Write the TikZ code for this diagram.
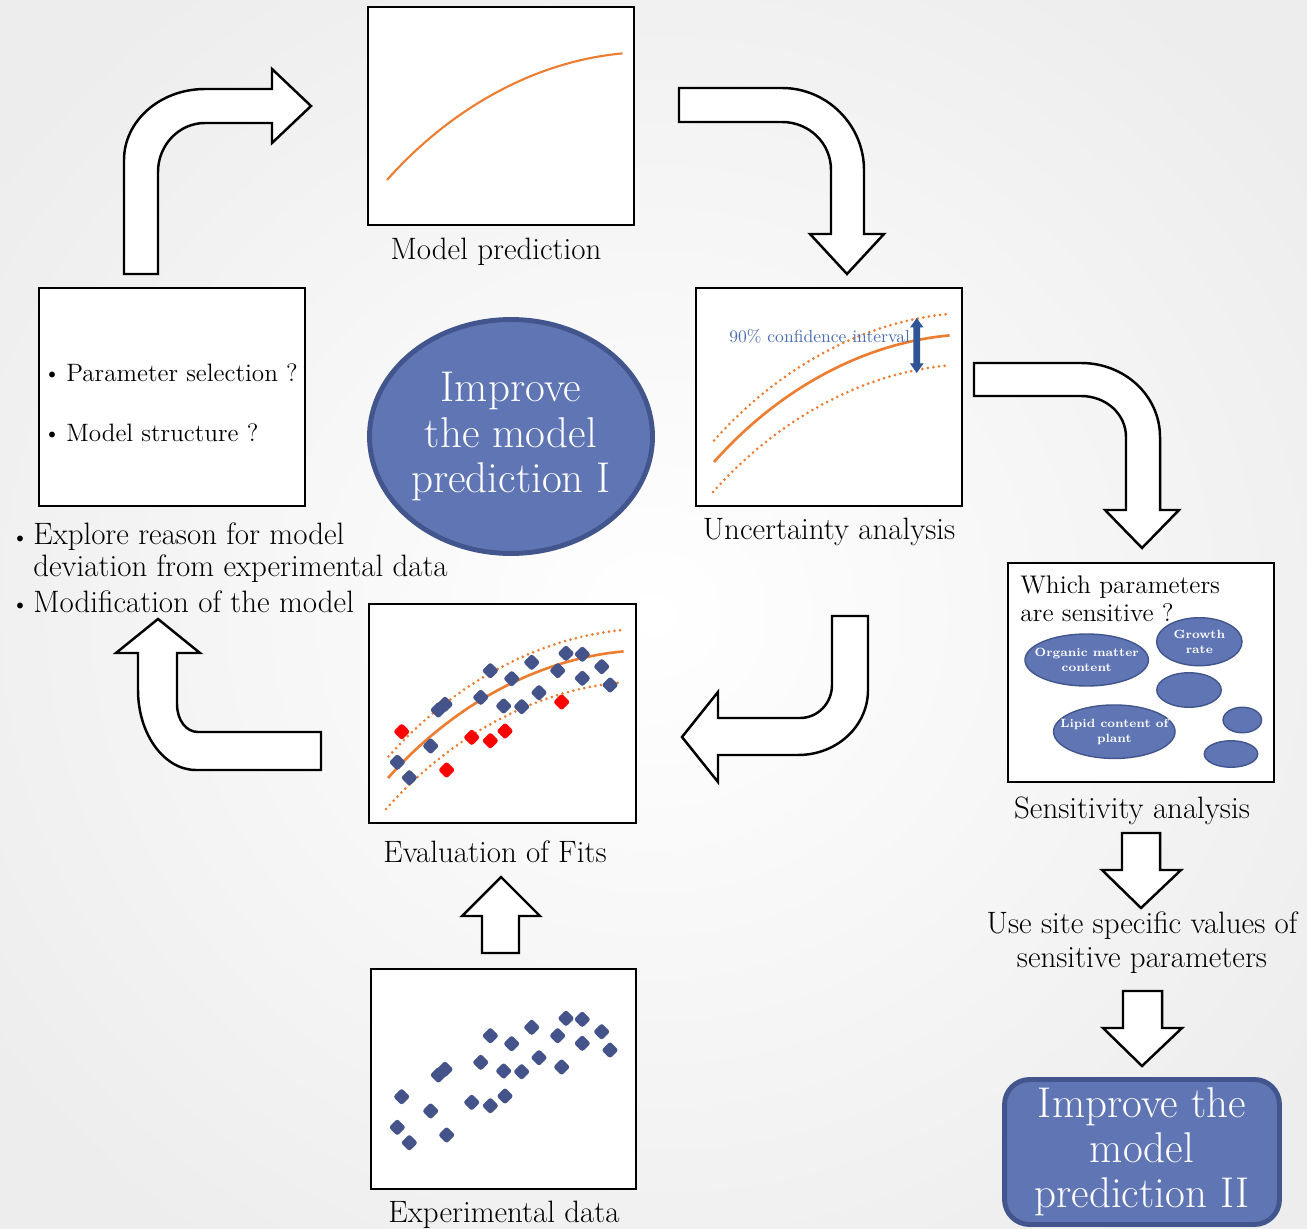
\documentclass[tikz,border=0pt]{standalone}
\usepackage{fontspec}
\usetikzlibrary{shapes.geometric}
\definecolor{orng}{HTML}{ED7D31}
\definecolor{navy}{HTML}{44548A}
\definecolor{fillblue}{HTML}{6075B4}
\definecolor{edgeblue}{HTML}{42568D}
\definecolor{ciblue}{HTML}{4A6EB0}
\definecolor{arrblue}{HTML}{2F5597}
\newcommand\bul{\raisebox{1.6pt}{\fontsize{8.5}{8.5}\selectfont$\bullet$}}
\def\bluepts{397.3/1127.3,409.3/1142.7,430.7/1111,438.3/1075,445/1069.3,480.7/1062.3,490.3/1035.7,503.7/1071,511.7/1043.7,521.7/1071.7,531.7/1027.3,539/1057.7,557.7/1035.7,566/1018.3,582.3/1019.3,582.3/1043.3,601.7/1031.7,610/1050}
\def\redpts{401.7/1096.7,446.7/1135,471.7/1102.3,490.3/1105.7,505/1096,561.7/1067}
\begin{document}
\begin{tikzpicture}[x=0.02cm,y=-0.02cm,
  pbox/.style={draw=black, line width=0.8pt, fill=white, minimum width=5.32cm, minimum height=4.36cm, inner sep=0},
  captxt/.style={font=\fontsize{17.6}{19}\selectfont, inner sep=0},
  boxtext/.style={font=\fontsize{14.3}{16.3}\selectfont, inner sep=0, anchor=west},
  blockarrow/.style={draw=black, line width=1.4pt, fill=white, line join=miter},
  fitline/.style={draw=orng, line width=1.5pt},
  dotline/.style={draw=orng, line width=1.7pt, line cap=round, dash pattern=on 0pt off 3.2pt},
  sell/.style={ellipse, draw=edgeblue, line width=0.8pt, fill=fillblue, inner sep=0},
  etext/.style={text=white, font=\fontsize{6.8}{8.5}\selectfont\bfseries, align=center, inner sep=0},
  bigblue/.style={draw=edgeblue, line width=2.8pt, fill=fillblue, text=white, font=\fontsize{24.5}{26}\selectfont, align=center, inner sep=0},
  mk/.style={rounded corners=0.05cm}
]
\useasboundingbox (0,0) rectangle (1307,1229);
\clip (0,0) rectangle (1307,1229);
\shade[inner color=white, outer color=black!7] (-150,-150) rectangle (1457,1379);

% ---------- boxes ----------
\node[pbox] (mp) at (501,116) {};
\node[pbox] (ua) at (829,397) {};
\node[pbox] (lb) at (172,397) {};
\node[pbox, minimum width=5.34cm, minimum height=4.38cm] (ev) at (502.5,713.5) {};
\node[pbox, minimum width=5.30cm, minimum height=4.40cm] (ed) at (503.5,1079) {};
\node[pbox, minimum height=4.38cm] (sa) at (1141,672.5) {};

% ---------- captions ----------
\node[captxt] (mpl) at (496,252) {Model prediction};
\node[captxt] (ual) at (829,532) {Uncertainty analysis};
\node[captxt] (evl) at (495,852) {Evaluation of Fits};
\node[captxt] (edl) at (504,1215) {Experimental data};
\node[captxt] (sal) at (1132,811) {Sensitivity analysis};
\node[captxt, align=center, font=\fontsize{17.6}{19.3}\selectfont] (usl) at (1142,943) {Use site specific values of\\sensitive parameters};

% ---------- model prediction curve ----------
\draw[draw=orng, line width=1.2pt, shift={(387,180)}] (0,0) .. controls (60.6,-68.3) and (144,-118.3) .. (235.6,-126.6);

% ---------- uncertainty analysis ----------
\draw[fitline, shift={(714,462)}] (0,0) .. controls (60.6,-68.3) and (144,-118.3) .. (235.6,-126.6);
\draw[dotline, shift={(714,440.5)}] (0,0) .. controls (60.6,-68.3) and (144,-118.3) .. (235.6,-126.6);
\draw[dotline, shift={(713,492)}] (0,0) .. controls (60.6,-68.3) and (144,-118.3) .. (235.6,-126.6);
\node[text=ciblue, font=\fontsize{10}{12}\selectfont, inner sep=0, anchor=west] (ci) at (729,336) {90\% confidence interval};
\fill[arrblue] (916.7,318) -- (923.5,327.5) -- (920,327.5) -- (920,363.5) -- (923.5,363.5) -- (916.7,373) -- (910,363.5) -- (913.4,363.5) -- (913.4,327.5) -- (910,327.5) -- cycle;

% ---------- evaluation of fits ----------
\draw[fitline, shift={(388,778)}] (0,0) .. controls (60.6,-68.3) and (144,-118.3) .. (235.6,-126.6);
\draw[dotline, shift={(388.5,756.5)}] (0,0) .. controls (60.6,-68.3) and (144,-118.3) .. (235.6,-126.6);
\draw[dotline, shift={(386,809)}] (0,0) .. controls (60.6,-68.3) and (144,-118.3) .. (235.6,-126.6);
\foreach \px/\py in \bluepts {
  \fill[navy, mk] (\px-8.5,\py-365) -- (\px,\py-373.5) -- (\px+8.5,\py-365) -- (\px,\py-356.5) -- cycle;
}
\foreach \px/\py in \redpts {
  \fill[red, mk] (\px-8.5,\py-365) -- (\px,\py-373.5) -- (\px+8.5,\py-365) -- (\px,\py-356.5) -- cycle;
}

% ---------- experimental data ----------
\foreach \px/\py in \bluepts {
  \fill[navy, mk] (\px-8.5,\py) -- (\px,\py-8.5) -- (\px+8.5,\py) -- (\px,\py+8.5) -- cycle;
}
\foreach \px/\py in \redpts {
  \fill[navy, mk] (\px-8.5,\py) -- (\px,\py-8.5) -- (\px+8.5,\py) -- (\px,\py+8.5) -- cycle;
}

% ---------- left box text ----------
\node[boxtext] (lb1) at (48,373) {\makebox[0.36cm][l]{\bul}Parameter selection ?};
\node[boxtext] (lb2) at (48,433) {\makebox[0.36cm][l]{\bul}Model structure ?};

% ---------- explore text ----------
\node[captxt, anchor=west] (ex1) at (16,537) {\makebox[0.34cm][l]{\bul}Explore reason for model};
\node[captxt, anchor=west] (ex2) at (33,569) {deviation from experimental data};
\node[captxt, anchor=west] (ex3) at (16,602) {\makebox[0.34cm][l]{\bul}Modification of the model};

% ---------- improve I ----------
\node[bigblue, ellipse, minimum width=5.66cm, minimum height=4.68cm] (imp1) at (511,436.5) {Improve\\the model\\prediction I};

% ---------- sensitivity box ----------
\node[boxtext, align=left, font=\fontsize{14.5}{16}\selectfont] (wp) at (1020,599) {Which parameters\\are sensitive ?};
\node[sell, minimum width=2.47cm, minimum height=1.04cm] (om) at (1086.7,660) {};
\node[etext] (omt) at (om) {Organic matter\\content};
\node[sell, minimum width=1.71cm, minimum height=0.96cm] (gr) at (1199.3,641.7) {};
\node[etext] (grt) at (gr) {Growth\\rate};
\node[sell, minimum width=1.29cm, minimum height=0.69cm] (bl1) at (1189,690) {};
\node[sell, minimum width=2.43cm, minimum height=1.07cm] (lp) at (1114.3,731.7) {};
\node[etext] (lpt) at (lp) {Lipid content of\\plant};
\node[sell, minimum width=0.77cm, minimum height=0.51cm] (bl2) at (1242.3,720) {};
\node[sell, minimum width=1.07cm, minimum height=0.53cm] (bl3) at (1231,754) {};

% ---------- improve II ----------
\node[bigblue, rounded corners=0.5cm, minimum width=5.5cm, minimum height=2.9cm, font=\fontsize{24.5}{25.6}\selectfont] (imp2) at (1142,1152) {Improve the\\model\\prediction II};

% ---------- block arrows ----------
% up then right (to model prediction)
\draw[blockarrow] (124,274) -- (124,160) .. controls (124,121) and (160,89) .. (205,89) -- (272,89) -- (272,69) -- (311,106) -- (272,143) -- (272,123) -- (205,123) .. controls (179,123) and (158,145) .. (158,172) -- (158,274) -- cycle;
% right then down (to uncertainty)
\draw[blockarrow] (679,88) -- (782,88) .. controls (827,88) and (864,125) .. (864,170) -- (864,234) -- (884,234) -- (847,274) -- (810,234) -- (831,234) -- (831,170) .. controls (831,143) and (809,122) .. (782,122) -- (679,122) -- cycle;
% right then down (to sensitivity)
\draw[blockarrow] (974,363) -- (1081,363) .. controls (1125,363) and (1160,396) .. (1160,437) -- (1160,510) -- (1179,510) -- (1142,548) -- (1105,510) -- (1126,510) -- (1126,437) .. controls (1126,414) and (1106,396) .. (1081,396) -- (974,396) -- cycle;
% down then left (to evaluation)
\draw[blockarrow] (832,616) -- (868,616) -- (868,690) .. controls (868,726) and (837,755) .. (798,755) -- (718,755) -- (718,782) -- (682,737) -- (718,692) -- (718,718) -- (800,718) .. controls (818,718) and (832,703) .. (832,685) -- cycle;
% left then up (to modification)
\draw[blockarrow] (321,732) -- (198,732) .. controls (186,732) and (177,720) .. (177,704) -- (177,653) -- (200,653) -- (158,619) -- (116,653) -- (138,653) -- (138,690) .. controls (138,734) and (164,770) .. (196,770) -- (321,770) -- cycle;
% up (experimental data to evaluation)
\draw[blockarrow] (482,953) -- (482,916) -- (462,916) -- (501,877) -- (540,916) -- (519,916) -- (519,953) -- cycle;
% down arrows on the right
\draw[blockarrow] (1122,833) -- (1160,833) -- (1160,870) -- (1181,870) -- (1141,908) -- (1102,870) -- (1122,870) -- cycle;
\draw[blockarrow] (1123,991) -- (1162,991) -- (1162,1028) -- (1182,1028) -- (1142,1066) -- (1103,1028) -- (1123,1028) -- cycle;
\end{tikzpicture}
\end{document}
